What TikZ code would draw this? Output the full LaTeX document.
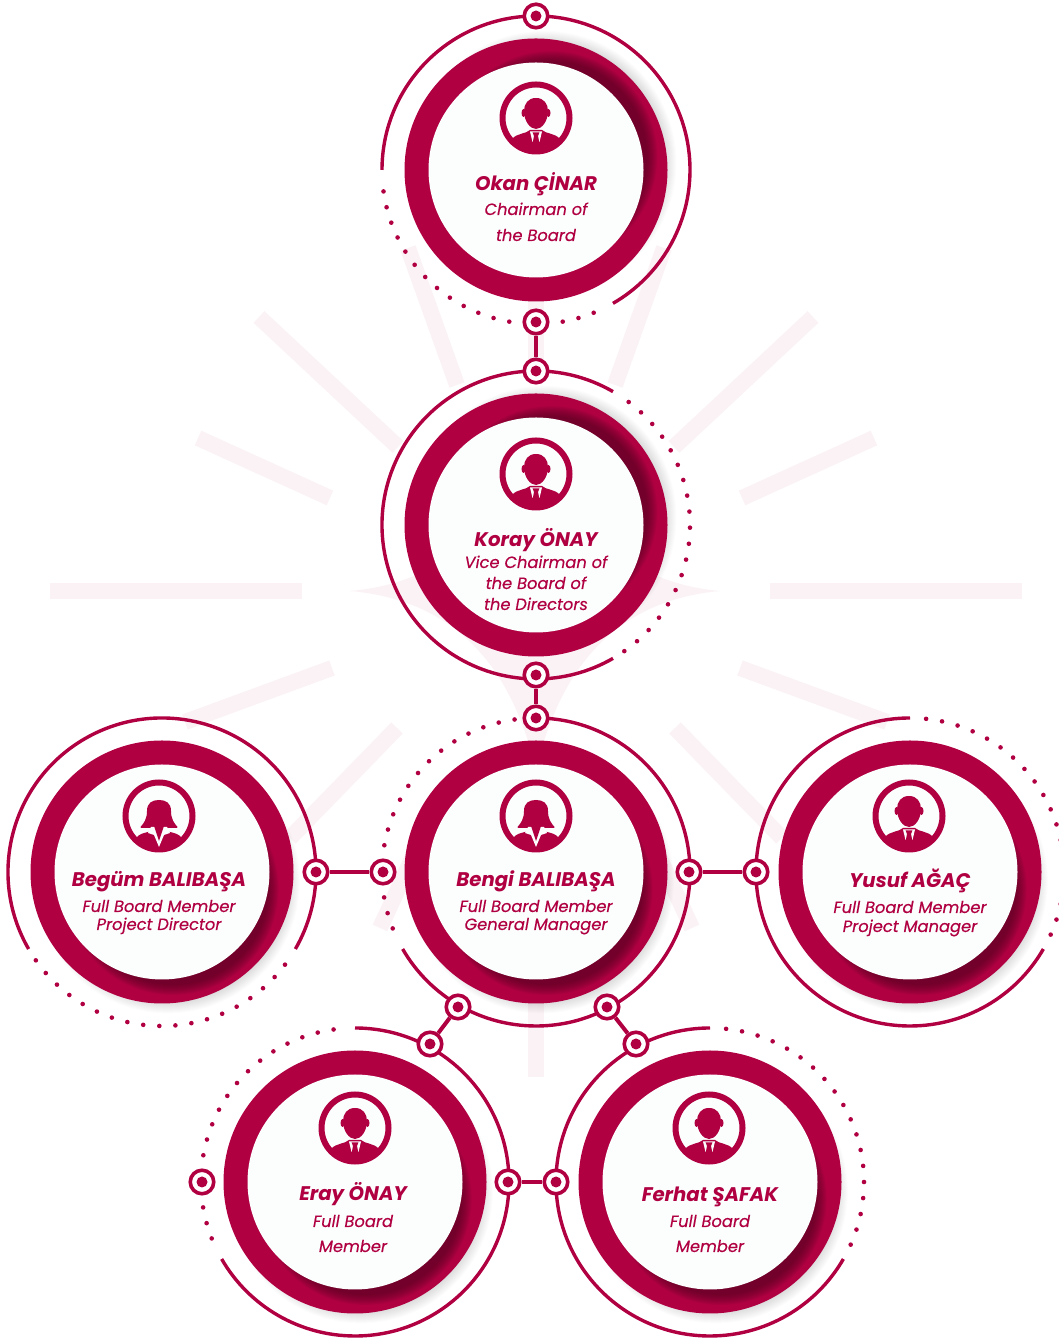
\documentclass[tikz,border=0pt]{standalone}
\usepackage{fontspec}
\setmainfont{Poppins}
\newfontfamily\jobfont[FakeBold=0.25]{Poppins}
\definecolor{crimson}{HTML}{B00042}
\definecolor{deepwine}{HTML}{500020}
\definecolor{blush}{HTML}{FBF2F5}
\definecolor{paper}{HTML}{FBFEFD}
\tikzset{
  ring/.style={crimson,line width=3.4},
  link/.style={crimson,line width=4},
  ray/.style={blush,line width=16},
  pin/.style={circle,draw=crimson,fill=white,line width=3.6,minimum size=23.5,inner sep=0,
    path picture={\fill[crimson] (path picture bounding box.center) circle (5.5);}},
  disc/.style={circle,fill=paper,minimum size=215,inner sep=0},
  who/.style={anchor=base,yshift=-1,text=crimson,font=\fontsize{19.7}{19.7}\selectfont\bfseries\itshape},
  job/.style={anchor=base,text=crimson,font=\fontsize{16.3}{16.3}\selectfont\jobfont\itshape},
  man/.pic={
    \draw[crimson,line width=6] (0,0) circle (33.5);
    \fill[crimson] (0,20) .. controls (8,20) and (12,14) .. (12,7) .. controls (12,-3) and (6,-11) .. (0,-11) .. controls (-6,-11) and (-12,-3) .. (-12,7) .. controls (-12,14) and (-8,20) .. (0,20);
    \fill[crimson] (-12.5,5) ellipse (2 and 4);
    \fill[crimson] (12.5,5) ellipse (2 and 4);
    \begin{scope}
      \clip (0,0) circle (33);
      \fill[crimson] (-24,-21) .. controls (-19,-15) and (-10,-16) .. (-6,-12) -- (6,-12) .. controls (10,-16) and (19,-15) .. (24,-21) -- (24,-36) -- (-24,-36) -- cycle;
    \end{scope}
    \fill[paper] (-6,-13.5) -- (6,-13.5) -- (3.5,-24) -- (-3.5,-24) -- cycle;
    \fill[crimson] (-3.4,-14.5) -- (3.4,-14.5) -- (2,-18) -- (3.4,-25) -- (0,-28) -- (-3.4,-25) -- (-2,-18) -- cycle;
  },
  woman/.pic={
    \draw[crimson,line width=6] (0,0) circle (33.5);
    \fill[crimson] (0,16) .. controls (7,16) and (12,13) .. (12,5) .. controls (12,-3) and (15,-7) .. (18.5,-11) -- (18,-12) -- (-18,-12) -- (-18.5,-11) .. controls (-15,-7) and (-12,-3) .. (-12,5) .. controls (-12,13) and (-7,16) .. (0,16);
    \begin{scope}
      \clip (0,0) circle (33);
      \fill[crimson] (-23,-22) .. controls (-20,-18) and (-15,-17) .. (-11,-16) -- (11,-16) .. controls (15,-17) and (20,-18) .. (23,-22) -- (24,-36) -- (-24,-36) -- cycle;
    \end{scope}
    \fill[paper] (-8,-11) -- (8,-11) -- (11,-17) -- (5,-19) -- (0,-31) -- (-5,-19) -- (-11,-17) -- cycle;
    \fill[crimson] (-5,-10) -- (5,-10) -- (0,-25) -- cycle;
  }
}
\newcommand{\ringdisc}[3]{
  \foreach \k in {0,...,12} \fill[black,opacity=.012] (#1,#2) ++(#3:11) circle ({120+\k});
  \fill[crimson] (#1,#2) circle (131.5);
  \begin{scope}
    \clip (#1,#2) circle (131.5);
    \foreach \k in {0,...,10} \fill[deepwine,opacity=.08] (#1,#2) ++(#3:20) circle ({96+\k});
  \end{scope}
}
\begin{document}
\begin{tikzpicture}[x=1pt,y=1pt]
  \useasboundingbox (0,0) rectangle (1059,1338);

  \fill[blush] (350,747) .. controls (450,738) and (510,678) .. (536,568) .. controls (562,678) and (622,738) .. (720,747) .. controls (622,756) and (562,818) .. (536,928) .. controls (510,818) and (450,756) .. (350,747);

  \draw[ray] (50,747) -- (302,747);
  \draw[ray] (770,747) -- (1022,747);
  \draw[ray] (259,1021) -- (398,891);
  \draw[ray] (813,1021) -- (674,891);
  \draw[ray] (198,900) -- (330,840);
  \draw[ray] (874,900) -- (742,840);
  \draw[ray] (408,1090) -- (457,953);
  \draw[ray] (664,1090) -- (615,953);
  \draw[ray] (536,1045) -- (536,967);
  \draw[ray] (332,670) -- (185,616);
  \draw[ray] (740,670) -- (887,616);
  \draw[ray] (397,610) -- (290,500);
  \draw[ray] (675,610) -- (782,500);
  \draw[ray] (380,410) -- (430,518);
  \draw[ray] (692,410) -- (642,518);
  \draw[ray] (536,340) -- (536,261);

  \ringdisc{536}{1168}{40}
  \ringdisc{536}{813}{40}
  \ringdisc{162}{466}{-58}
  \ringdisc{536}{466}{-58}
  \ringdisc{910}{466}{-58}
  \ringdisc{355}{156}{-58}
  \ringdisc{710}{156}{-58}

  \draw[ring] (536,1168) ++(180:154) arc (180:-60:154);
  \foreach \a in {188,194,...,260,280,286,292}
    \fill[crimson] (536,1168) ++(\a:154) circle (2.3);

  \draw[ring] (536,813) ++(60:154) arc (60:300:154);
  \foreach \a in {-55,-49,...,53}
    \fill[crimson] (536,813) ++(\a:154) circle (2.3);

  \draw[ring] (162,466) ++(210:154) arc (210:-30:154);
  \foreach \a in {215,221,...,323}
    \fill[crimson] (162,466) ++(\a:154) circle (2.3);

  \draw[ring] (536,466) ++(90:154) arc (90:-150:154);
  \foreach \a in {98,104,...,170,189.5,195.5,201.5}
    \fill[crimson] (536,466) ++(\a:154) circle (2.3);

  \draw[ring] (910,466) ++(90:154) arc (90:330:154);
  \foreach \a in {-24,-18,...,84}
    \fill[crimson] (910,466) ++(\a:154) circle (2.3);

  \draw[ring] (355,156) ++(90:154) arc (90:-150:154);
  \foreach \a in {98,104,...,170,189.5,195.5,201.5}
    \fill[crimson] (355,156) ++(\a:154) circle (2.3);

  \draw[ring] (710,156) ++(90:154) arc (90:330:154);
  \foreach \a in {-24,-18,...,84}
    \fill[crimson] (710,156) ++(\a:154) circle (2.3);

  \node[disc] (okan) at (536,1168) {};
  \node[disc] (koray) at (536,813) {};
  \node[disc] (begum) at (162,466) {};
  \node[disc] (bengi) at (536,466) {};
  \node[disc] (yusuf) at (910,466) {};
  \node[disc] (eray) at (355,156) {};
  \node[disc] (ferhat) at (710,156) {};

  \pic at (536,1220) {man};
  \pic at (536,864) {man};
  \pic at (159,522) {woman};
  \pic at (536,522) {woman};
  \pic at (909,522) {man};
  \pic at (355,210) {man};
  \pic at (709,210) {man};

  \node[who] (okanname) at (536,1148) {Okan ÇİNAR};
  \node[job] (okanjob) at (536,1123) {Chairman of};
  \node[job] (okanjobb) at (536,1097) {the Board};

  \node[who] (korayname) at (536,792) {Koray ÖNAY};
  \node[job] (korayjob) at (536,770) {Vice Chairman of};
  \node[job] (korayjobb) at (536,749) {the Board of};
  \node[job] (korayjobc) at (536,728) {the Directors};

  \node[who] (begumname) at (159,452) {Begüm BALIBAŞA};
  \node[job] (begumjob) at (159,426) {Full Board Member};
  \node[job] (begumjobb) at (159,408) {Project Director};

  \node[who] (benginame) at (536,452) {Bengi BALIBAŞA};
  \node[job] (bengijob) at (536,426) {Full Board Member};
  \node[job] (bengijobb) at (536,408) {General Manager};

  \node[who] (yusufname) at (910,451) {Yusuf AĞAÇ};
  \node[job] (yusufjob) at (910,425) {Full Board Member};
  \node[job] (yusufjobb) at (910,406) {Project Manager};

  \node[who] (erayname) at (353,138) {Eray ÖNAY};
  \node[job] (erayjob) at (353,111) {Full Board};
  \node[job] (erayjobb) at (353,86) {Member};

  \node[who] (ferhatname) at (710,137) {Ferhat ŞAFAK};
  \node[job] (ferhatjob) at (710,111) {Full Board};
  \node[job] (ferhatjobb) at (710,86) {Member};

  \node[pin] (okant) at (536,1322) {};
  \node[pin] (okanb) at (536,1016) {};
  \node[pin] (korayt) at (536,967) {};
  \node[pin] (korayb) at (536,663) {};
  \node[pin] (bengit) at (536,620) {};
  \node[pin] (begumr) at (316,466) {};
  \node[pin] (bengil) at (383,466) {};
  \node[pin] (bengir) at (689,466) {};
  \node[pin] (yusufl) at (756,466) {};
  \node[pin] (bengidl) at (458,331) {};
  \node[pin] (bengidr) at (607,331) {};
  \node[pin] (erayt) at (430,294) {};
  \node[pin] (ferhatt) at (636,294) {};
  \node[pin] (erayl) at (202,156) {};
  \node[pin] (erayr) at (508,156) {};
  \node[pin] (ferhatl) at (556,156) {};

  \draw[link] (okanb) -- (korayt);
  \draw[link] (korayb) -- (bengit);
  \draw[link] (begumr) -- (bengil);
  \draw[link] (bengir) -- (yusufl);
  \draw[link] (bengidl) -- (erayt);
  \draw[link] (bengidr) -- (ferhatt);
  \draw[link] (erayr) -- (ferhatl);
\end{tikzpicture}
\end{document}
